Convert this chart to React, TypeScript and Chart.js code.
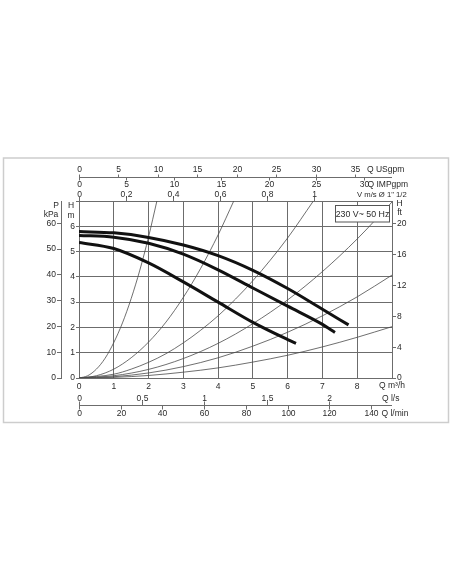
import React, { useEffect, useRef } from 'react';
import { Chart, registerables } from 'chart.js';

Chart.register(...registerables);

// ---------- data ----------
// Pump curves (Q in m³/h, H in m) – three speeds
const speed3Q = [0, 1, 2, 3, 4, 5, 6, 7, 7.75];
const speed3H = [5.79, 5.74, 5.56, 5.26, 4.84, 4.26, 3.54, 2.72, 2.1];
const speed2Q = [0, 1, 2, 3, 4, 5, 6, 7, 7.36];
const speed2H = [5.64, 5.57, 5.33, 4.9, 4.28, 3.56, 2.84, 2.12, 1.8];
const speed1Q = [0, 1, 2, 3, 4, 5, 6, 6.24];
const speed1H = [5.36, 5.12, 4.55, 3.8, 3.0, 2.2, 1.52, 1.37];

// System (thin) curves
const sys1Q = [0, 0.25, 0.5, 0.75, 1, 1.25, 1.5, 1.75, 2, 2.24];
const sys1H = [0, 0.09, 0.35, 0.78, 1.4, 2.18, 3.14, 4.27, 5.58, 7.0];
const sys2Q = [0, 0.5, 1, 1.5, 2, 2.5, 3, 3.5, 4, 4.45];
const sys2H = [0, 0.09, 0.35, 0.8, 1.42, 2.21, 3.19, 4.34, 5.66, 7.0];
const sys3Q = [0, 1, 1.5, 2, 2.5, 3, 3.5, 4, 4.5, 5, 5.5, 6, 6.74];
const sys3H = [0, 0.15, 0.35, 0.62, 0.96, 1.39, 1.89, 2.46, 3.12, 3.85, 4.66, 5.54, 7.0];
const sysQ = [0, 1, 2, 3, 4, 5, 6, 7, 8, 9];
const sys4H = [0, 0.09, 0.34, 0.77, 1.37, 2.15, 3.09, 4.21, 5.5, 6.96];
const sys5H = [0, 0.05, 0.2, 0.45, 0.8, 1.26, 1.81, 2.46, 3.21, 4.07];
const sys6H = [0, 0.025, 0.1, 0.23, 0.4, 0.63, 0.9, 1.23, 1.61, 2.03];

// Axis ticks
const flowTicks = [0, 1, 2, 3, 4, 5, 6, 7, 8, 9];
const headTicks = [0, 1, 2, 3, 4, 5, 6, 7];
const kpaTicks = [0, 10, 20, 30, 40, 50, 60];
const ftTicks = [0, 4, 8, 12, 16, 20];
const usgpmTicks = [0, 5, 10, 15, 20, 25, 30, 35];
const impgpmTicks = [0, 5, 10, 15, 20, 25, 30];
const velocityTicks = [0, 0.2, 0.4, 0.6, 0.8, 1];
const lsTicks = [0, 0.5, 1, 1.5, 2];
const lminTicks = [0, 20, 40, 60, 80, 100, 120, 140];

// Unit conversions (per m³/h or per m)
const USGPM_PER_M3H = 4.4029;
const IMPGPM_PER_M3H = 3.6662;
const M3H_PER_MS = 6.77; // flow at 1 m/s in Ø 1" 1/2
const M3H_PER_LS = 3.6;
const LMIN_PER_M3H = 16.6667;
const KPA_PER_M = 9.80665;
const FT_PER_M = 3.28084;
const H_MAX = 7;
const Q_MAX = 9;

const legendText = '230 V~ 50 Hz';

const FONT = "'Liberation Sans', Arial, Helvetica, sans-serif";
const TEXT = '#2a2a2a';
const GRID = '#6c6c6c';
const THIN = '#4a4a4a';

const pts = (q: number[], h: number[]) => q.map((v, i) => ({ x: v, y: h[i] }));
const fmt = (v: number) => String(v).replace('.', ',');

const auxPlugin = {
  id: 'auxAxes',
  beforeDraw(chart: any) {
    const ctx = chart.ctx;
    ctx.save();
    ctx.fillStyle = '#ffffff';
    ctx.fillRect(0, 0, chart.width, chart.height);
    ctx.strokeStyle = '#cdcdcd';
    ctx.lineWidth = 1.5;
    ctx.strokeRect(3.5, 158, 445, 264.5);
    ctx.restore();
  },
  afterDraw(chart: any) {
    const ctx = chart.ctx;
    const xs = chart.scales.x;
    const area = chart.chartArea;
    const px = (q: number) => xs.getPixelForValue(q);
    const line = (x1: number, y1: number, x2: number, y2: number) => {
      ctx.beginPath();
      ctx.moveTo(x1, y1);
      ctx.lineTo(x2, y2);
      ctx.stroke();
    };
    ctx.save();
    ctx.strokeStyle = GRID;
    ctx.fillStyle = TEXT;
    ctx.lineWidth = 1;
    ctx.font = `8.5px ${FONT}`;
    ctx.textBaseline = 'middle';

    const top = area.top;
    const bottom = area.bottom;

    // ---- top: USgpm / IMPgpm shared line
    const topLine = Math.round(top - 24.5) + 0.5;
    line(px(0), topLine, px(Q_MAX), topLine);
    ctx.textAlign = 'center';
    usgpmTicks.forEach((v) => {
      const x = Math.round(px(v / USGPM_PER_M3H)) + 0.5;
      line(x, topLine - 3, x, topLine);
      ctx.fillText(String(v), x, topLine - 8);
    });
    impgpmTicks.forEach((v) => {
      const x = Math.round(px(v / IMPGPM_PER_M3H)) + 0.5;
      line(x, topLine, x, topLine + 3);
      ctx.fillText(String(v), x, topLine + 7.5);
    });
    // velocity row
    velocityTicks.forEach((v) => {
      const x = Math.round(px(v * M3H_PER_MS)) + 0.5;
      line(x, top - 4, x, top);
      ctx.fillText(fmt(v), x, top - 6);
    });
    ctx.textAlign = 'left';
    ctx.fillText('Q USgpm', 367, topLine - 8);
    ctx.fillText('Q IMPgpm', 367.5, topLine + 7.5);
    ctx.font = `7.7px ${FONT}`;
    ctx.fillText('V m/s \u00d8 1" 1/2', 357, top - 6);
    ctx.font = `8.5px ${FONT}`;

    // ---- bottom: l/s and l/min
    const botLine = Math.round(bottom + 27) + 0.5;
    line(px(0), botLine, px(Q_MAX), botLine);
    ctx.textAlign = 'center';
    lsTicks.forEach((v) => {
      const x = Math.round(px(v * M3H_PER_LS)) + 0.5;
      line(x, botLine - 4, x, botLine);
      ctx.fillText(fmt(v), x, botLine - 7);
    });
    lminTicks.forEach((v) => {
      const x = Math.round(px(v / LMIN_PER_M3H)) + 0.5;
      line(x, botLine, x, botLine + 4);
      ctx.fillText(String(v), x, botLine + 8.5);
    });
    ctx.textAlign = 'left';
    ctx.fillText('Q m\u00b3/h', 379, bottom + 8);
    ctx.fillText('Q l/s', 382, botLine - 7);
    ctx.fillText('Q l/min', 381.5, botLine + 8.5);

    // ---- axis titles
    ctx.textAlign = 'center';
    ctx.fillText('P', 56, top + 5);
    ctx.fillText('kPa', 51, top + 14);
    ctx.fillText('H', 71, top + 5);
    ctx.fillText('m', 71, top + 14.5);
    ctx.fillText('H', 399.5, top + 3);
    ctx.fillText('ft', 399.5, top + 12);

    // ---- legend box
    const bw = 54;
    const bh = 16.5;
    const bx = Math.round(area.right - 3 - bw) + 0.5;
    const by = Math.round(top + 4) + 0.5;
    ctx.fillStyle = '#ffffff';
    ctx.fillRect(bx, by, bw, bh);
    ctx.strokeStyle = '#555';
    ctx.strokeRect(bx, by, bw, bh);
    ctx.fillStyle = TEXT;
    ctx.font = `8.8px ${FONT}`;
    ctx.fillText(legendText, bx + bw / 2, by + bh / 2 + 0.5);
    ctx.restore();
  },
};

export default function App() {
  const ref = useRef<HTMLCanvasElement | null>(null);

  useEffect(() => {
    if (!ref.current) return;
    const thick = (q: number[], h: number[]) => ({
      data: pts(q, h),
      borderColor: '#111',
      borderWidth: 3,
      pointRadius: 0,
      cubicInterpolationMode: 'monotone' as const,
      borderCapStyle: 'butt' as const,
      order: 0,
    });
    const thin = (q: number[], h: number[]) => ({
      data: pts(q, h),
      borderColor: THIN,
      borderWidth: 0.8,
      pointRadius: 0,
      cubicInterpolationMode: 'monotone' as const,
      order: 1,
    });
    const tickFont = { family: FONT, size: 8.5 };
    const chart = new Chart(ref.current, {
      type: 'line',
      data: {
        datasets: [
          thick(speed3Q, speed3H),
          thick(speed2Q, speed2H),
          thick(speed1Q, speed1H),
          thin(sys1Q, sys1H),
          thin(sys2Q, sys2H),
          thin(sys3Q, sys3H),
          thin(sysQ, sys4H),
          thin(sysQ, sys5H),
          thin(sysQ, sys6H),
        ],
      },
      options: {
        animation: false,
        responsive: false,
        devicePixelRatio: 1,
        layout: { padding: { left: 30, right: 40, top: 201, bottom: 192 } },
        plugins: { legend: { display: false }, tooltip: { enabled: false } },
        elements: { line: { fill: false } },
        scales: {
          x: {
            type: 'linear',
            position: 'bottom',
            min: 0,
            max: Q_MAX,
            afterBuildTicks: (s: any) => {
              s.ticks = flowTicks.map((v) => ({ value: v }));
            },
            afterFit: (s: any) => {
              s.height = 14;
            },
            grid: { color: GRID, lineWidth: 1, drawTicks: false },
            border: { color: GRID },
            ticks: {
              font: tickFont,
              color: TEXT,
              padding: 4,
              maxRotation: 0,
              callback: (v: any) => (v === Q_MAX ? '' : String(v)),
            },
          },
          y: {
            type: 'linear',
            position: 'left',
            weight: 0,
            min: 0,
            max: H_MAX,
            afterBuildTicks: (s: any) => {
              s.ticks = headTicks.map((v) => ({ value: v }));
            },
            afterFit: (s: any) => {
              s.width = 18;
            },
            grid: { color: GRID, lineWidth: 1, drawTicks: true, tickLength: 3 },
            border: { color: GRID },
            ticks: {
              font: tickFont,
              color: TEXT,
              padding: 1,
              callback: (v: any) => (v === H_MAX ? '' : String(v)),
            },
          },
          kpa: {
            type: 'linear',
            position: 'left',
            weight: 1,
            min: 0,
            max: H_MAX * KPA_PER_M,
            afterBuildTicks: (s: any) => {
              s.ticks = kpaTicks.map((v) => ({ value: v }));
            },
            afterFit: (s: any) => {
              s.width = 31;
            },
            grid: { drawOnChartArea: false, color: GRID, tickLength: 4 },
            border: { color: GRID },
            ticks: { font: tickFont, color: TEXT, padding: 1 },
          },
          ft: {
            type: 'linear',
            position: 'right',
            min: 0,
            max: H_MAX * FT_PER_M,
            afterBuildTicks: (s: any) => {
              s.ticks = ftTicks.map((v) => ({ value: v }));
            },
            afterFit: (s: any) => {
              s.width = 20;
            },
            grid: { drawOnChartArea: false, color: GRID, tickLength: 4 },
            border: { color: GRID },
            ticks: { font: tickFont, color: TEXT, padding: 1 },
          },
        },
      },
      plugins: [auxPlugin],
    });
    return () => chart.destroy();
  }, []);

  return (
    <div style={{ position: 'absolute', left: 0, top: 0, width: 452, height: 584 }}>
      <canvas ref={ref} width={452} height={584} style={{ width: 452, height: 584, display: 'block' }} />
    </div>
  );
}
